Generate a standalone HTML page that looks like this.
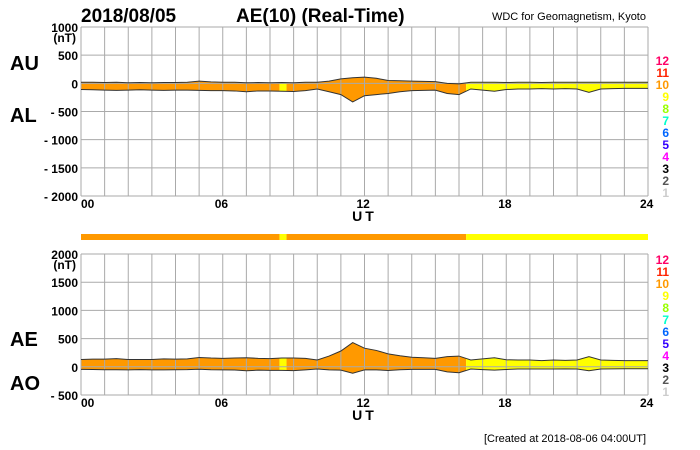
<!DOCTYPE html>
<html><head><meta charset="utf-8"><style>
body{margin:0;background:#fff;width:700px;height:450px;overflow:hidden}
svg{display:block;font-family:"Liberation Sans",sans-serif}
</style></head><body>
<svg id="c" width="700" height="450">
<text x="81" y="22" font-size="19" font-weight="bold">2018/08/05</text>
<text x="236" y="22" font-size="19" font-weight="bold">AE(10) (Real-Time)</text>
<text x="646" y="20" font-size="11" text-anchor="end">WDC for Geomagnetism, Kyoto</text>
<text x="10" y="70" font-size="20" font-weight="bold">AU</text>
<text x="10" y="122" font-size="20" font-weight="bold">AL</text>
<text x="10" y="346" font-size="20" font-weight="bold">AE</text>
<text x="10" y="390" font-size="20" font-weight="bold">AO</text>
<text x="646" y="442" font-size="11" text-anchor="end">[Created at 2018-08-06 04:00UT]</text>
<g id="g"></g>
</svg>
<script>
const hours=[0,0.5,1,1.5,2,2.5,3,3.5,4,4.5,5,5.5,6,6.5,7,7.5,8,8.5,9,9.5,10,10.5,11,11.5,12,12.5,13,13.5,14,14.5,15,15.5,16,16.5,17,17.5,18,18.5,19,19.5,20,20.5,21,21.5,22,22.5,23,23.5,24];
const auVals=[20,20,15,20,10,15,10,15,15,20,40,25,20,20,10,15,10,15,10,20,20,40,80,100,110,90,50,45,40,35,30,0,-10,20,20,20,15,20,20,15,20,20,20,20,20,20,20,20,20];
const alVals=[-110,-115,-120,-125,-120,-115,-120,-125,-120,-120,-125,-130,-130,-135,-150,-135,-135,-140,-145,-130,-100,-150,-200,-330,-220,-200,-180,-150,-130,-125,-120,-180,-200,-100,-120,-140,-110,-100,-100,-95,-100,-95,-100,-160,-100,-95,-90,-90,-90];
const segStart=[0,8.4,8.7,16.3];
const segEnd=[8.4,8.7,16.3,24];
const segLevel=[10,9,10,9];
const legendNums=[12,11,10,9,8,7,6,5,4,3,2,1];
const legendCols=["#ff0066","#ff2200","#ff9900","#ffff00","#99ff00","#00ffcc","#0066ff","#3300ff","#ff00ff","#000000","#555555","#cccccc"];
const topTicks=[1000,500,0,-500,-1000,-1500,-2000];
const botTicks=[2000,1500,1000,500,0,-500];
const xTicks=[0,6,12,18,24];
const levelCol={9:"#ffff00",10:"#ff9900"};
const NS="http://www.w3.org/2000/svg",G=document.getElementById('g');
const X0=81,X1=648;
const x=h=>X0+(X1-X0)*h/24;
function mk(t,a,p){const e=document.createElementNS(NS,t);for(const k in a)e.setAttribute(k,a[k]);(p||G).appendChild(e);return e;}
const aeVals=auVals.map((u,i)=>u-alVals[i]);
const aoVals=auVals.map((u,i)=>(u+alVals[i])/2);
function panel(name,yTop,yBot,vMax,vMin,ticks,upper,lower,legY){
  const y=v=>yTop+(vMax-v)/(vMax-vMin)*(yBot-yTop);
  const grp=mk('g',{});
  
  
  const cp=mk('clipPath',{id:name+'-clip'},grp);
  let d='M'+hours.map((h,i)=>x(h)+','+y(upper[i])).join('L')+'L'+hours.slice().reverse().map((h,j)=>x(h)+','+y(lower[hours.length-1-j])).join('L')+'Z';
  mk('path',{d:d},cp);
  segStart.forEach((s,i)=>{const r=mk('rect',{x:x(s),y:yTop,width:x(segEnd[i])-x(s),height:yBot-yTop,fill:levelCol[segLevel[i]],'clip-path':'url(#'+name+'-clip)'},grp);
    
    });
  for(let h=0;h<=24;h++){mk('line',{x1:x(h),x2:x(h),y1:yTop,y2:yBot,stroke:'#aaa','stroke-width':1},grp);}
  ticks.forEach((t,i)=>{mk('line',{x1:X0,x2:X1,y1:y(t),y2:y(t),stroke:'#aaa','stroke-width':1},grp);
    const tx=mk('text',{x:78,y:y(t)+5,'font-size':12,'font-weight':'bold','text-anchor':'end'},grp);tx.textContent=(t<0?'- '+(-t):t);
    });
  const nt=mk('text',{x:76,y:yTop+15,'font-size':12,'font-weight':'bold','text-anchor':'end'},grp);nt.textContent='(nT)';
  mk('polyline',{points:hours.map((h,i)=>x(h)+','+y(upper[i])).join(' '),fill:'none',stroke:'#333','stroke-width':1},grp);
  mk('polyline',{points:hours.map((h,i)=>x(h)+','+y(lower[i])).join(' '),fill:'none',stroke:'#333','stroke-width':1},grp);
  xTicks.forEach(h=>{const t=mk('text',{x:x(h)-(h==0?0:8),y:yBot+12,'font-size':12,'font-weight':'bold'},grp);t.textContent=String(h).padStart(2,'0');
    });
  const ut=mk('text',{x:x(12),y:yBot+25,'font-size':14,'font-weight':'bold','text-anchor':'middle','letter-spacing':'3'},grp);ut.textContent='UT';
  
  legendNums.forEach((n,i)=>{const t=mk('text',{x:669,y:legY+i*12,'font-size':12,'font-weight':'bold','text-anchor':'end',fill:legendCols[i]},grp);t.textContent=n;
    });
}
panel('au-al-panel',27,196,1000,-2000,topTicks,auVals,alVals,65);
panel('ae-ao-panel',254,395,2000,-500,botTicks,aeVals,aoVals,264);
segStart.forEach((s,i)=>{const r=mk('rect',{x:x(s),y:234,width:x(segEnd[i])-x(s),height:6,fill:levelCol[segLevel[i]]});
  
  });
</script>
</body></html>
